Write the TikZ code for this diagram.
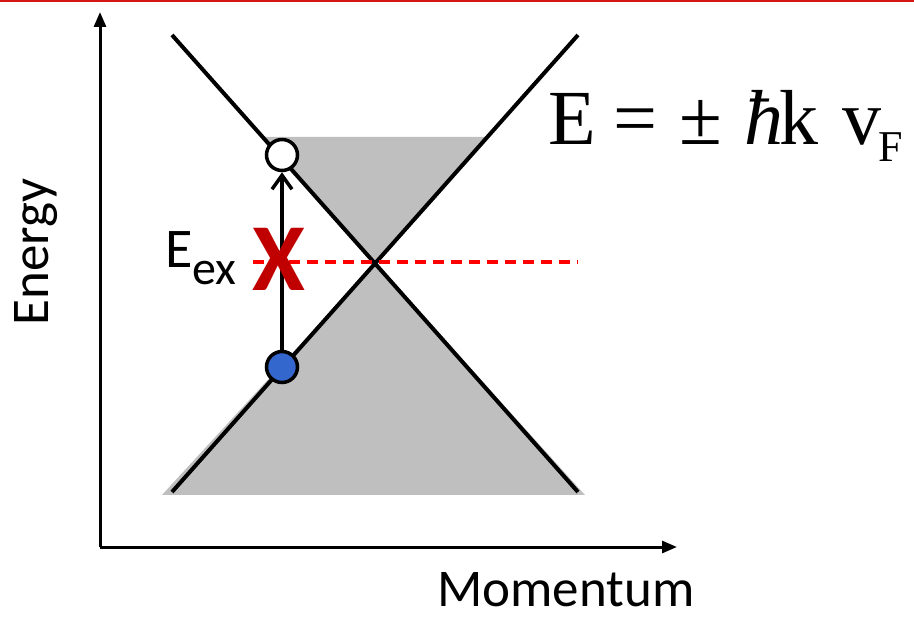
\documentclass[tikz,border=0pt]{standalone}
\usepackage{fontspec}
\setmainfont{Carlito}
\newfontfamily\timesfont{Liberation Serif}
\usetikzlibrary{arrows.meta}
\definecolor{elecblue}{RGB}{52,103,205}
\definecolor{xred}{RGB}{192,0,0}
\definecolor{topred}{RGB}{215,20,20}
\begin{document}
\begin{tikzpicture}[x=1pt, y=-1pt]

\def\xc{375}
\def\yc{263}

\useasboundingbox (0,0) rectangle (914,620);
\draw[topred, line width=2.5pt] (0,1) -- (914,1);

% gray cones
\fill[black!25] (\xc,\yc) -- (262,137) -- (488,137) -- cycle;
\fill[black!25] (\xc,\yc) -- (162,495) -- (585,495) -- cycle;

% axes
\coordinate (O) at (100,547);
\coordinate (Etop) at (100,12);
\coordinate (Pend) at (677,547);
\draw[line width=3pt, -{Triangle[length=15pt, width=12pt]}] (O) -- (Etop);
\draw[line width=3pt, -{Triangle[length=15pt, width=12pt]}] (O) -- (Pend);

% bands
\draw[line width=4pt] (172,35) -- (578,492);
\draw[line width=4pt] (172,492) -- (578,35);

% Fermi level
\coordinate (dL) at (253,262);
\coordinate (dR) at (578,262);
\draw[red, line width=3.5pt, dash pattern=on 11pt off 7pt] (dL) -- (dR);

\node[circle, draw, line width=3.5pt, fill=white, minimum size=31pt, inner sep=0pt] (hole) at (282,155) {};
\node[circle, draw, line width=3.5pt, fill=elecblue, minimum size=31pt, inner sep=0pt] (elec) at (282,367) {};
\draw[line width=3.5pt, -{Straight Barb[length=14pt, width=20pt]}] (elec) -- (hole);

\node[text=xred, font=\bfseries\fontsize{96}{100}\selectfont, inner sep=0pt] (xmark) at (279,259) {X};

\node[anchor=base west, inner sep=0pt, font=\fontsize{56}{60}\selectfont] (eex) at (165,268)
  {E\raisebox{-17pt}{\fontsize{48}{50}\selectfont ex}};

\node[rotate=90, font=\fontsize{53}{60}\selectfont] (energy) at (36,252) {Energy};
\node[font=\fontsize{53}{60}\selectfont] (mom) at (566,590) {Momentum};

\node[anchor=base west, inner sep=0pt, font=\timesfont\fontsize{78}{80}\selectfont] (disp) at (548,145)
  {E\hspace{18pt}=\hspace{22pt}±\hspace{22pt}\textit{ħ}\kern-4pt k\hspace{24pt}v\kern-3pt\raisebox{-17pt}{\fontsize{44}{44}\selectfont F}};

\end{tikzpicture}
\end{document}
